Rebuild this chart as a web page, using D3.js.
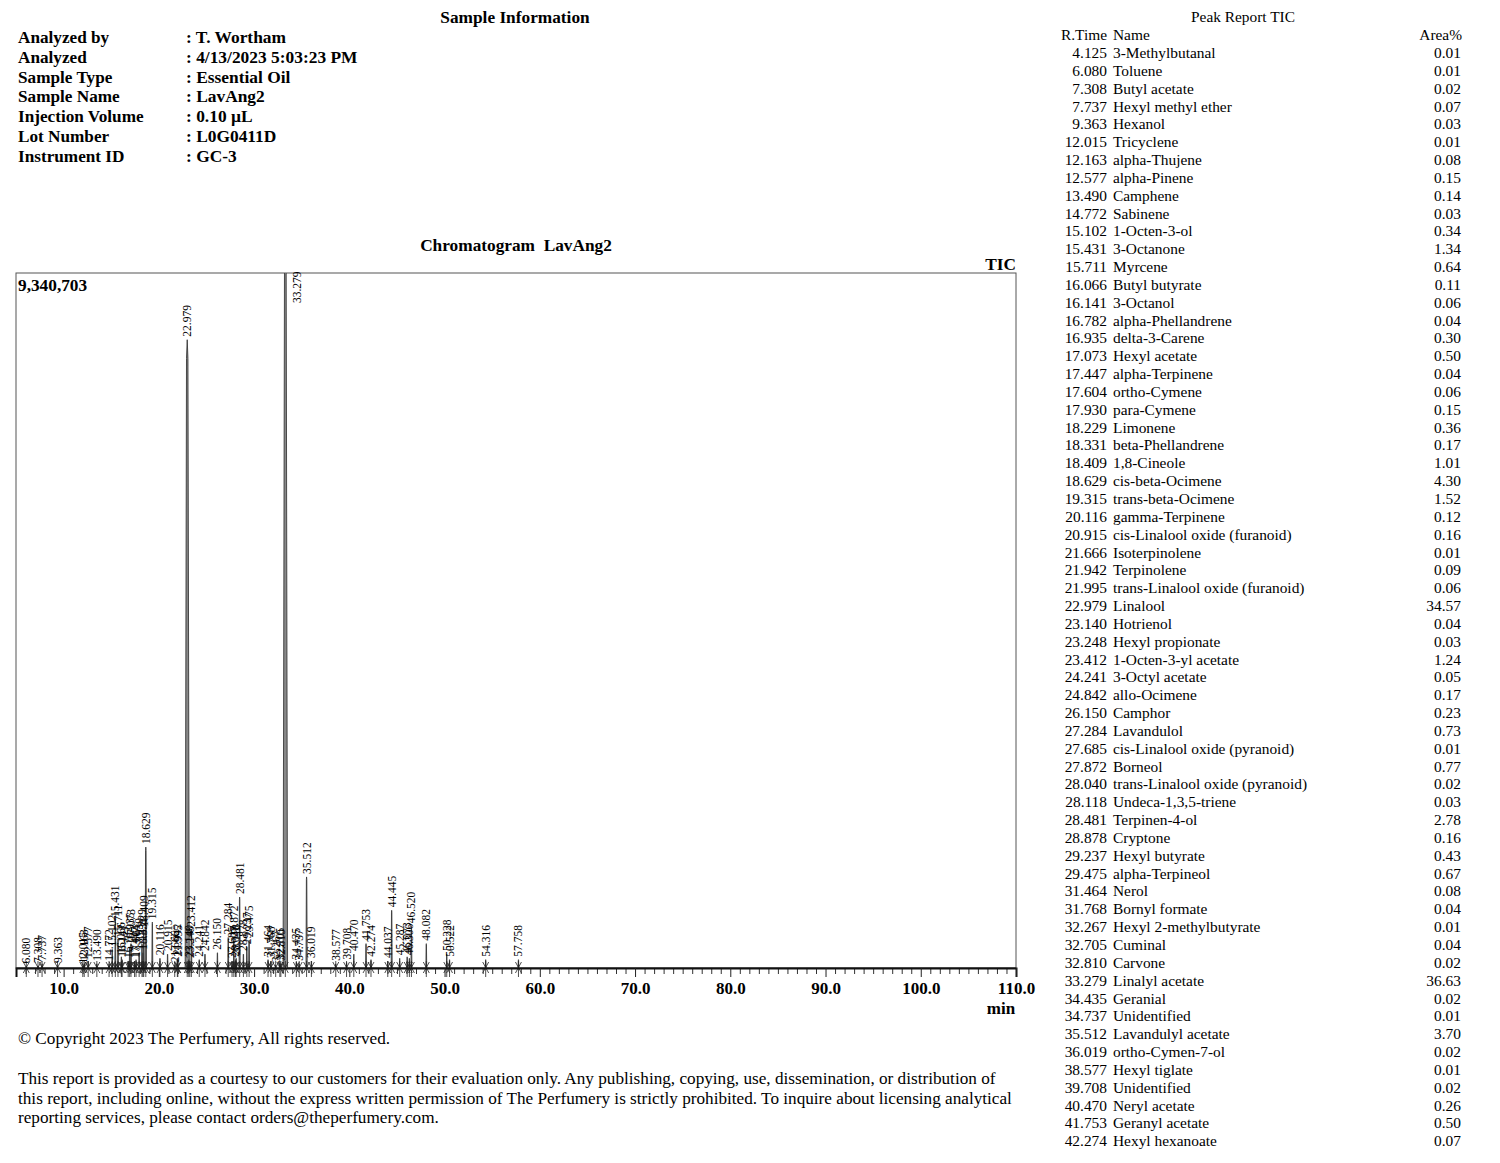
<!DOCTYPE html>
<html>
<head>
<meta charset="utf-8">
<script src="https://cdn.jsdelivr.net/npm/d3@7"></script>
<style>
  html, body { margin: 0; padding: 0; background: #fff; }
  svg text { font-family: "Liberation Serif", "Times New Roman", serif; fill: #000; }
</style>
</head>
<body>
<svg id="chart" width="1500" height="1163"></svg>
<script>
// ---------- DATA ----------
const infoLabels = ["Analyzed by", "Analyzed", "Sample Type", "Sample Name", "Injection Volume", "Lot Number", "Instrument ID"];
const infoValues = [": T. Wortham", ": 4/13/2023 5:03:23 PM", ": Essential Oil", ": LavAng2", ": 0.10 µL", ": L0G0411D", ": GC-3"];

const fullScale = 9340703;
const xTickValues = [10, 20, 30, 40, 50, 60, 70, 80, 90, 100, 110];

// peaks drawn in the chromatogram (retention time, height in counts)
const chromRT = [6.080, 7.308, 7.737, 9.363, 12.015, 12.163, 12.577, 13.490, 14.772, 15.102, 15.431, 15.711,
  16.066, 16.141, 16.782, 16.935, 17.073, 17.447, 17.604, 17.930, 18.229, 18.331, 18.409, 18.629, 19.315,
  20.116, 20.915, 21.666, 21.942, 21.995, 22.979, 23.140, 23.248, 23.412, 24.241, 24.842, 26.150, 27.284,
  27.685, 27.872, 28.040, 28.118, 28.481, 28.878, 29.237, 29.475, 31.464, 31.768, 32.267, 32.705, 32.810,
  33.279, 34.435, 34.737, 35.512, 36.019, 38.577, 39.708, 40.470, 41.753, 42.274, 44.037, 44.445, 45.287,
  46.073, 46.306, 46.520, 48.082, 50.228, 50.522, 54.316, 57.758];
const chromHeight = [19000, 28000, 56000, 28000, 19000, 56000, 93000, 56000, 56000, 250000, 645000, 390000,
  150000, 112000, 93000, 280000, 327000, 93000, 112000, 205000, 327000, 205000, 514000, 1625000, 616000,
  130000, 187000, 37000, 131000, 112000, 8444000, 112000, 93000, 514000, 112000, 187000, 205000, 410000,
  93000, 374000, 112000, 131000, 953000, 187000, 280000, 374000, 112000, 93000, 37000, 75000, 56000,
  10100000, 75000, 56000, 1224000, 93000, 56000, 75000, 187000, 327000, 112000, 93000, 775000, 131000,
  150000, 131000, 560000, 327000, 187000, 112000, 112000, 112000];

// peak report table
const reportRT = ["4.125","6.080","7.308","7.737","9.363","12.015","12.163","12.577","13.490","14.772","15.102",
  "15.431","15.711","16.066","16.141","16.782","16.935","17.073","17.447","17.604","17.930","18.229","18.331",
  "18.409","18.629","19.315","20.116","20.915","21.666","21.942","21.995","22.979","23.140","23.248","23.412",
  "24.241","24.842","26.150","27.284","27.685","27.872","28.040","28.118","28.481","28.878","29.237","29.475",
  "31.464","31.768","32.267","32.705","32.810","33.279","34.435","34.737","35.512","36.019","38.577","39.708",
  "40.470","41.753","42.274"];
const reportName = ["3-Methylbutanal","Toluene","Butyl acetate","Hexyl methyl ether","Hexanol","Tricyclene",
  "alpha-Thujene","alpha-Pinene","Camphene","Sabinene","1-Octen-3-ol","3-Octanone","Myrcene","Butyl butyrate",
  "3-Octanol","alpha-Phellandrene","delta-3-Carene","Hexyl acetate","alpha-Terpinene","ortho-Cymene",
  "para-Cymene","Limonene","beta-Phellandrene","1,8-Cineole","cis-beta-Ocimene","trans-beta-Ocimene",
  "gamma-Terpinene","cis-Linalool oxide (furanoid)","Isoterpinolene","Terpinolene",
  "trans-Linalool oxide (furanoid)","Linalool","Hotrienol","Hexyl propionate","1-Octen-3-yl acetate",
  "3-Octyl acetate","allo-Ocimene","Camphor","Lavandulol","cis-Linalool oxide (pyranoid)","Borneol",
  "trans-Linalool oxide (pyranoid)","Undeca-1,3,5-triene","Terpinen-4-ol","Cryptone","Hexyl butyrate",
  "alpha-Terpineol","Nerol","Bornyl formate","Hexyl 2-methylbutyrate","Cuminal","Carvone","Linalyl acetate",
  "Geranial","Unidentified","Lavandulyl acetate","ortho-Cymen-7-ol","Hexyl tiglate","Unidentified",
  "Neryl acetate","Geranyl acetate","Hexyl hexanoate"];
const reportArea = ["0.01","0.01","0.02","0.07","0.03","0.01","0.08","0.15","0.14","0.03","0.34","1.34","0.64",
  "0.11","0.06","0.04","0.30","0.50","0.04","0.06","0.15","0.36","0.17","1.01","4.30","1.52","0.12","0.16",
  "0.01","0.09","0.06","34.57","0.04","0.03","1.24","0.05","0.17","0.23","0.73","0.01","0.77","0.02","0.03",
  "2.78","0.16","0.43","0.67","0.08","0.04","0.01","0.04","0.02","36.63","0.02","0.01","3.70","0.02","0.01",
  "0.02","0.26","0.50","0.07"];

const copyrightText = "© Copyright 2023 The Perfumery, All rights reserved.";
const disclaimerLines = [
  "This report is provided as a courtesy to our customers for their evaluation only. Any publishing, copying, use, dissemination, or distribution of",
  "this report, including online, without the express written permission of The Perfumery is strictly prohibited. To inquire about licensing analytical",
  "reporting services, please contact orders@theperfumery.com."
];

// ---------- DRAWING ----------
(function () {
const svg = d3.select("#chart");

// Sample information
svg.append("text").attr("x", 515).attr("y", 23).attr("text-anchor", "middle")
  .attr("font-size", 17.3).attr("font-weight", "bold").text("Sample Information");
const info = svg.append("g");
infoLabels.forEach((l, i) => {
  const yy = 43 + i * 19.75;
  info.append("text").attr("x", 18).attr("y", yy).attr("font-size", 17.2).attr("font-weight", "bold").text(l);
  info.append("text").attr("x", 186).attr("y", yy).attr("font-size", 17.4).attr("font-weight", "bold").text(infoValues[i]);
});

// Chromatogram
const pLeft = 16, pRight = 1016, pTop = 273, pBase = 968;
const x = d3.scaleLinear().domain([5, 110]).range([pLeft, pRight]);
const y = d3.scaleLinear().domain([0, fullScale]).range([pBase, pTop]);

svg.append("text").attr("x", 516).attr("y", 251).attr("text-anchor", "middle")
  .attr("font-size", 17.3).attr("font-weight", "bold").text("Chromatogram\u00A0\u00A0LavAng2");
svg.append("text").attr("x", 1016).attr("y", 270).attr("text-anchor", "end")
  .attr("font-size", 17.3).attr("font-weight", "bold").text("TIC");

svg.append("defs").append("clipPath").attr("id", "plotclip")
  .append("rect").attr("x", pLeft).attr("y", pTop).attr("width", pRight - pLeft).attr("height", pBase - pTop + 1);

// frame
svg.append("rect").attr("x", pLeft).attr("y", pTop).attr("width", pRight - pLeft).attr("height", pBase - pTop)
  .attr("fill", "none").attr("stroke", "#555").attr("stroke-width", 1);

svg.append("text").attr("x", 18).attr("y", 291).attr("font-size", 17.3).attr("font-weight", "bold")
  .text(d3.format(",")(fullScale));

// trace
const peaks = chromRT.map((rt, i) => ({ rt, h: chromHeight[i] })).sort((a, b) => a.rt - b.rt);
const tracePts = [[5, 0]];
peaks.forEach(p => {
  const frac = Math.min(p.h / fullScale, 1);
  const hw = 0.035 + 0.2 * frac;
  tracePts.push([p.rt - hw, 0], [p.rt - hw * 0.35, p.h * 0.97], [p.rt, p.h], [p.rt + hw * 0.35, p.h * 0.97], [p.rt + hw, 0]);
});
tracePts.push([110, 0]);
const line = d3.line().x(d => x(d[0])).y(d => y(d[1]));
svg.append("g").attr("clip-path", "url(#plotclip)")
  .append("path").attr("d", line(tracePts)).attr("fill", "#888").attr("stroke", "#3a3a3a")
  .attr("stroke-width", 0.9).attr("stroke-linejoin", "miter");

// peak markers at baseline
const markers = svg.append("g").attr("stroke", "#222").attr("stroke-width", 0.8).attr("fill", "none");
peaks.forEach(p => {
  const px = x(p.rt);
  markers.append("path").attr("d",
    `M${px},${pBase - 7}L${px},${pBase + 9}M${px - 3},${pBase - 6}L${px + 3},${pBase + 5}M${px + 3},${pBase - 6}L${px - 3},${pBase + 5}`);
});

// peak labels
const labels = svg.append("g");
peaks.forEach(p => {
  const clipped = p.h > fullScale;
  const px = clipped ? x(p.rt) + 16 : x(p.rt) + 4;
  const py = clipped ? pTop + 30 : y(p.h) - 3;
  labels.append("text").attr("transform", `translate(${px},${py}) rotate(-90)`)
    .attr("font-size", 11.5).attr("text-anchor", "start")
    .text(p.rt.toFixed(3));
});

// x axis
const majorAxis = d3.axisBottom(x).tickValues(xTickValues).tickFormat(d3.format(".1f"))
  .tickSize(9).tickPadding(5);
const minorTicks = d3.range(6, 110, 1).filter(v => v % 10 !== 0);
const minorAxis = d3.axisBottom(x).tickValues(minorTicks).tickFormat("").tickSize(6);
const gMinor = svg.append("g").attr("transform", `translate(0,${pBase})`).call(minorAxis);
gMinor.select(".domain").remove();
gMinor.selectAll("line").attr("stroke", "#333");
const gMajor = svg.append("g").attr("transform", `translate(0,${pBase})`).call(majorAxis);
gMajor.select(".domain").attr("stroke", "#111").attr("stroke-width", 2);
gMajor.selectAll("line").attr("stroke", "#222");
gMajor.selectAll("text").attr("font-size", 17).attr("font-weight", "bold")
  .attr("font-family", "Liberation Serif").attr("fill", "#000");
svg.append("text").attr("x", 1001).attr("y", 1014).attr("text-anchor", "middle")
  .attr("font-size", 17).attr("font-weight", "bold").text("min");

// Peak report table
const fs = 15.4;
svg.append("text").attr("x", 1243).attr("y", 22).attr("text-anchor", "middle").attr("font-size", fs).text("Peak Report TIC");
svg.append("text").attr("x", 1107).attr("y", 40).attr("text-anchor", "end").attr("font-size", fs).text("R.Time");
svg.append("text").attr("x", 1113).attr("y", 40).attr("font-size", fs).text("Name");
svg.append("text").attr("x", 1462).attr("y", 40).attr("text-anchor", "end").attr("font-size", fs).text("Area%");
const rows = svg.append("g");
reportRT.forEach((rt, i) => {
  const ry = 58 + i * 17.84;
  rows.append("text").attr("x", 1107).attr("y", ry).attr("text-anchor", "end").attr("font-size", fs).text(rt);
  rows.append("text").attr("x", 1113).attr("y", ry).attr("font-size", fs).text(reportName[i]);
  rows.append("text").attr("x", 1461).attr("y", ry).attr("text-anchor", "end").attr("font-size", fs).text(reportArea[i]);
});

// footer
svg.append("text").attr("x", 18).attr("y", 1044).attr("font-size", 17.2).text(copyrightText);
disclaimerLines.forEach((t, i) => {
  svg.append("text").attr("x", 18).attr("y", 1084 + i * 19.6).attr("font-size", 17.2).text(t);
});
})();
</script>
</body>
</html>
